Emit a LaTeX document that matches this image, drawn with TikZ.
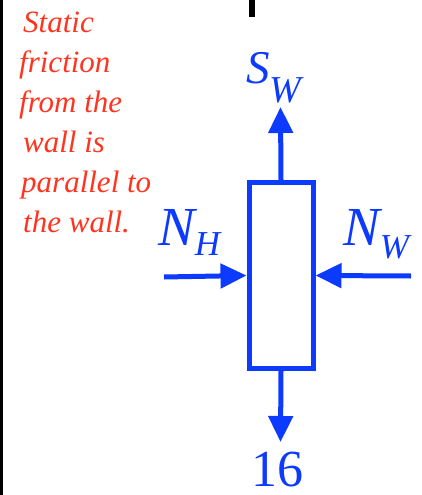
\documentclass[tikz,border=0pt]{standalone}
\usepackage{fontspec}
\setmainfont{Liberation Serif}
\usetikzlibrary{arrows.meta}
\definecolor{fblue}{RGB}{12,58,255}
\definecolor{nred}{RGB}{255,52,30}
\tikzset{
  force/.style={draw=fblue, line width=5pt, -{Triangle[length=26pt,width=24pt]}},
  body/.style={draw=fblue, line width=5pt, rectangle, inner sep=0pt, minimum width=64pt, minimum height=186pt},
  lbl/.style={text=fblue, inner sep=0pt, anchor=base west},
  note/.style={text=nred, inner sep=0pt, anchor=base west, font=\fontsize{31}{39.8}\selectfont\itshape}
}
\begin{document}
\begin{tikzpicture}[x=1pt,y=-1pt]
\useasboundingbox (0,0) rectangle (422,495);
\fill[black] (0,0) rectangle (3,495);
\fill[black] (249,0) rectangle (255,17);
\node[body] (box) at (281,275.5) {};
\coordinate (stop) at (280.5,107);
\coordinate (sbot) at (280.5,442);
\coordinate (hl) at (164,277);
\coordinate (wr) at (411,276);
\draw[force] (box.north) -- (stop);
\draw[force] (box.south) -- (sbot);
\draw[force] (hl) -- (box.west);
\draw[force] (wr) -- (box.east);
\node[lbl] (sw) at (246,83) {\fontsize{47}{47}\selectfont\itshape S\raisebox{-19pt}{\fontsize{38}{38}\selectfont W}};
\node[lbl] (nh) at (158,245) {\fontsize{55}{55}\selectfont\itshape N\raisebox{-10pt}{\fontsize{35}{35}\selectfont H}};
\node[lbl] (nw) at (343,245) {\fontsize{55}{55}\selectfont\itshape N\raisebox{-13pt}{\fontsize{35}{35}\selectfont W}};
\node[lbl, anchor=base, text depth=0pt] (mass) at (277,486) {\fontsize{52}{52}\selectfont 16};
\node[note] (n1) at (23,33) {Static};
\node[note] (n2) at (19,72.8) {friction};
\node[note] (n3) at (19,112.6) {from the};
\node[note] (n4) at (23,152.4) {wall is};
\node[note] (n5) at (21,192.2) {parallel to};
\node[note] (n6) at (23,232) {the wall.};
\end{tikzpicture}
\end{document}
